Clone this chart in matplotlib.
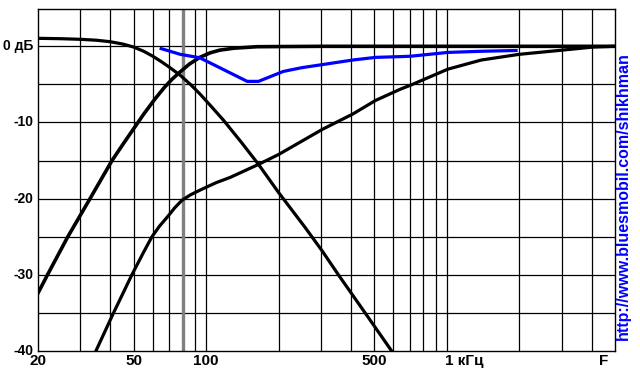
import numpy as np
import matplotlib
matplotlib.use('Agg')
import matplotlib.pyplot as plt

plt.rcParams['font.family'] = ['Liberation Sans Narrow', 'Liberation Sans', 'DejaVu Sans']

# low-pass branch (falls off to the right)
lp_f  = [20, 25, 30, 35, 40, 45, 50, 55, 60, 65, 70, 78, 86, 94.5, 105, 118, 140, 165, 200, 258, 304, 358, 460, 590]
lp_db = [1.05, 1.0, 0.92, 0.8, 0.6, 0.3, -0.1, -0.65, -1.3, -2.0, -2.7, -3.8, -5.0, -6.3, -7.9, -9.7, -12.6, -15.5, -19.2, -23.8, -26.9, -30.2, -35.1, -40]

# steep high-pass
hp1_f  = [20, 21.9, 26.6, 32.9, 40.6, 45, 50, 55, 61.3, 67, 72, 77, 85, 94, 104, 114, 130, 163, 300, 5000]
hp1_db = [-32.4, -30, -25, -20, -15, -12.9, -10.8, -8.9, -6.9, -5.4, -4.35, -3.5, -2.35, -1.45, -0.85, -0.5, -0.25, -0.05, 0, 0]

# shallow high-pass
hp2_f  = [34.8, 41.2, 49.1, 55, 59.5, 64, 69.4, 74, 79.4, 86, 94, 100, 110, 126, 165, 200, 304, 406, 506, 644, 707, 1010, 1390, 2000, 3020, 4040, 5000]
hp2_db = [-40, -35, -30, -27, -25, -23.6, -22.3, -21.2, -20.2, -19.5, -18.9, -18.5, -17.9, -17.2, -15.5, -14.2, -10.9, -8.9, -7.1, -5.6, -5.1, -3.0, -1.8, -1.05, -0.5, -0.1, 0]

# sum (blue)
sum_f  = [65, 78, 94, 148, 165, 209, 250, 304, 406, 506, 644, 707, 1010, 1390, 1940]
sum_db = [-0.3, -1.05, -1.5, -4.6, -4.6, -3.3, -2.8, -2.4, -1.8, -1.45, -1.35, -1.3, -0.8, -0.65, -0.55]

x_grid = [30, 40, 50, 60, 70, 90, 100, 200, 300, 400, 500, 600, 700, 800, 900, 1000, 2000, 3000, 4000]
y_grid = [-35, -30, -25, -20, -15, -10, -5, 0]
y_labels = [(0, '0 дБ'), (-10, '-10'), (-20, '-20'), (-30, '-30'), (-40, '-40')]
x_labels = [(20, '20'), (50, '50'), (100, '100'), (500, '500'), (1000, '1 кГц'), (4500, 'F')]

fig = plt.figure(figsize=(6.4, 3.8), dpi=100)
ax = fig.add_axes([38/640, 1-351/380, (615-38)/640, (351-9)/380])
ax.set_xscale('log')
ax.set_xlim(20, 5000)
ax.set_ylim(-40, 4.9)

for f in x_grid:
    ax.axvline(f, color='black', lw=0.9, zorder=1)
for d in y_grid:
    ax.axhline(d, color='black', lw=0.9, zorder=1)
ax.axvline(80, color='#808080', lw=2.4, zorder=2)

ax.plot(lp_f, lp_db, color='black', lw=2.3, zorder=3)
ax.plot(hp1_f, hp1_db, color='black', lw=2.6, zorder=3)
ax.plot(hp2_f, hp2_db, color='black', lw=2.3, zorder=3)
ax.plot(sum_f, sum_db, color='#0000ff', lw=2.3, zorder=4)

ax.set_xticks([])
ax.set_yticks([])
ax.minorticks_off()
for s in ax.spines.values():
    s.set_linewidth(1.0)

tr_y = ax.get_yaxis_transform()
for v, t in y_labels:
    ax.text(-0.008, v, t, transform=tr_y, ha='right', va='center',
            fontsize=10, fontweight='bold', clip_on=False)
tr_x = ax.get_xaxis_transform()
for v, t in x_labels:
    ha = 'left' if t == '1 кГц' else 'center'
    xx = v * 0.985 if ha == 'left' else v
    ax.text(xx, -0.03, t, transform=tr_x, ha=ha, va='center',
            fontsize=11, fontweight='bold', clip_on=False)

fig.text(623/640, 1-196/380, 'http://www.bluesmobil.com/shikhman', rotation=90,
         ha='center', va='center', color='#0000ff', fontsize=11.5, fontweight='bold',
         family=['Liberation Sans', 'DejaVu Sans'])

fig.savefig('out.png', dpi=100)
